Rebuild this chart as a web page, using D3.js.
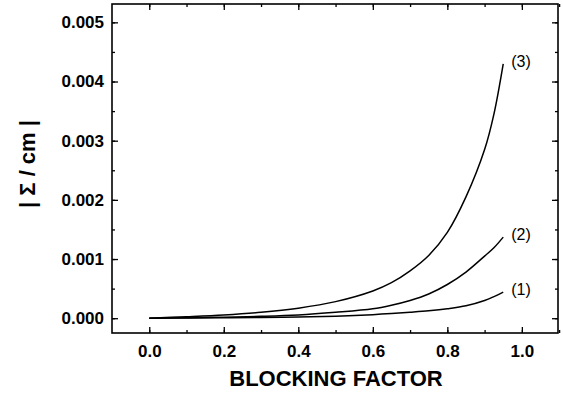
<!DOCTYPE html>
<html>
<head>
<meta charset="utf-8">
<script src="https://cdn.jsdelivr.net/npm/d3@7"></script>
<style>
  body { margin: 0; background: #fff; }
  text { font-family: "Liberation Sans", Arial, sans-serif; }
</style>
</head>
<body>
<div id="chart"></div>
<script>
// data (y in units of 1/cm)
let blocking = [0, 0.1, 0.2, 0.3, 0.4, 0.5, 0.6, 0.65, 0.7, 0.75, 0.8, 0.85, 0.9, 0.925, 0.95];
let curve1 = [0, 0.000003, 0.000007, 0.000012, 0.00002, 0.000035, 0.00006, 0.000078, 0.0001, 0.000125, 0.00016, 0.00021, 0.0003, 0.000365, 0.00044];
let curve2 = [0, 0.000008, 0.000018, 0.000032, 0.000055, 0.0001, 0.00016, 0.00022, 0.0003, 0.00041, 0.00057, 0.00078, 0.00105, 0.00119, 0.00137];
let curve3 = [0, 0.000025, 0.000055, 0.0001, 0.00017, 0.00028, 0.00046, 0.0006, 0.0008, 0.00106, 0.00145, 0.00205, 0.00285, 0.00345, 0.0043];
let curveLabels = ["(1)", "(2)", "(3)"];
let xTicks = [0, 0.2, 0.4, 0.6, 0.8, 1.0];
let yTicks = [0, 0.001, 0.002, 0.003, 0.004, 0.005];

function chart(){
    let W = 563, H = 393;
    let margin = {"top": 4, "bottom": 60, "left": 112, "right": 5};
    let width = W - margin.left - margin.right;
    let height = H - margin.top - margin.bottom;

    let svg = d3.select("#chart").append("svg")
        .attr("width", W)
        .attr("height", H);
    let g = svg.append("g")
        .attr("transform", "translate(" + margin.left + ", " + margin.top + ")");

    let x = d3.scaleLinear().domain([-0.1, 1.097]).range([0, width]);
    let y = d3.scaleLinear().domain([-0.00025, 0.00531]).range([height, 0]);

    let minorX = d3.range(-0.1, 1.1, 0.1).map(v => +v.toFixed(2)).filter(v => v > -0.1);
    let minorY = d3.range(0, 0.0052, 0.0005).map(v => +v.toFixed(5));

    // axes, ticks inward
    g.append("g").attr("transform", "translate(0," + height + ")")
        .call(d3.axisBottom(x).tickValues(xTicks).tickSize(-6).tickPadding(12).tickFormat(d3.format(".1f")));
    g.append("g").attr("transform", "translate(0," + height + ")")
        .call(d3.axisBottom(x).tickValues(minorX).tickSize(-3).tickFormat(""));
    g.append("g")
        .call(d3.axisLeft(y).tickValues(yTicks).tickSize(-6).tickPadding(8).tickFormat(d3.format(".3f")));
    g.append("g").call(d3.axisLeft(y).tickValues(minorY).tickSize(-3).tickFormat(""));
    g.append("g").call(d3.axisTop(x).tickValues(xTicks).tickSize(-6).tickFormat(""));
    g.append("g").call(d3.axisTop(x).tickValues(minorX).tickSize(-3).tickFormat(""));
    g.append("g").attr("transform", "translate(" + width + ",0)")
        .call(d3.axisRight(y).tickValues(yTicks).tickSize(-6).tickFormat(""));
    g.append("g").attr("transform", "translate(" + width + ",0)")
        .call(d3.axisRight(y).tickValues(minorY).tickSize(-3).tickFormat(""));

    g.selectAll(".domain").remove();
    g.selectAll(".tick line").attr("stroke", "#000").attr("stroke-width", 1.3);
    g.selectAll(".tick text").attr("font-size", 17).attr("font-weight", "bold")
        .attr("font-family", "'Liberation Sans', Arial, sans-serif").attr("fill", "#000");

    g.append("rect").attr("width", width).attr("height", height)
        .attr("fill", "none").attr("stroke", "#000").attr("stroke-width", 1.6);

    let line = d3.line().x((d, i) => x(blocking[i])).y(d => y(d)).curve(d3.curveCatmullRom.alpha(0.5));
    let series = [curve1, curve2, curve3];
    g.selectAll(".curve").data(series).enter().append("path")
        .attr("class", "curve")
        .attr("d", line)
        .attr("fill", "none")
        .attr("stroke", "#000")
        .attr("stroke-width", 1.5);

    let last = blocking.length - 1;
    g.selectAll(".lab").data(series).enter().append("text")
        .attr("x", x(blocking[last]) + 8)
        .attr("y", d => y(d[last]) + 3)
        .attr("font-size", 16)
        .text((d, i) => curveLabels[i]);

    svg.append("text")
        .attr("x", 336).attr("y", 386)
        .attr("text-anchor", "middle").attr("font-size", 22).attr("font-weight", "bold")
        .text("BLOCKING FACTOR");
    svg.append("text")
        .attr("transform", "translate(35,164) rotate(-90)")
        .attr("text-anchor", "middle").attr("font-size", 22).attr("font-weight", "bold")
        .text("| \u03A3 / cm |");
}

chart();
</script>
</body>
</html>
